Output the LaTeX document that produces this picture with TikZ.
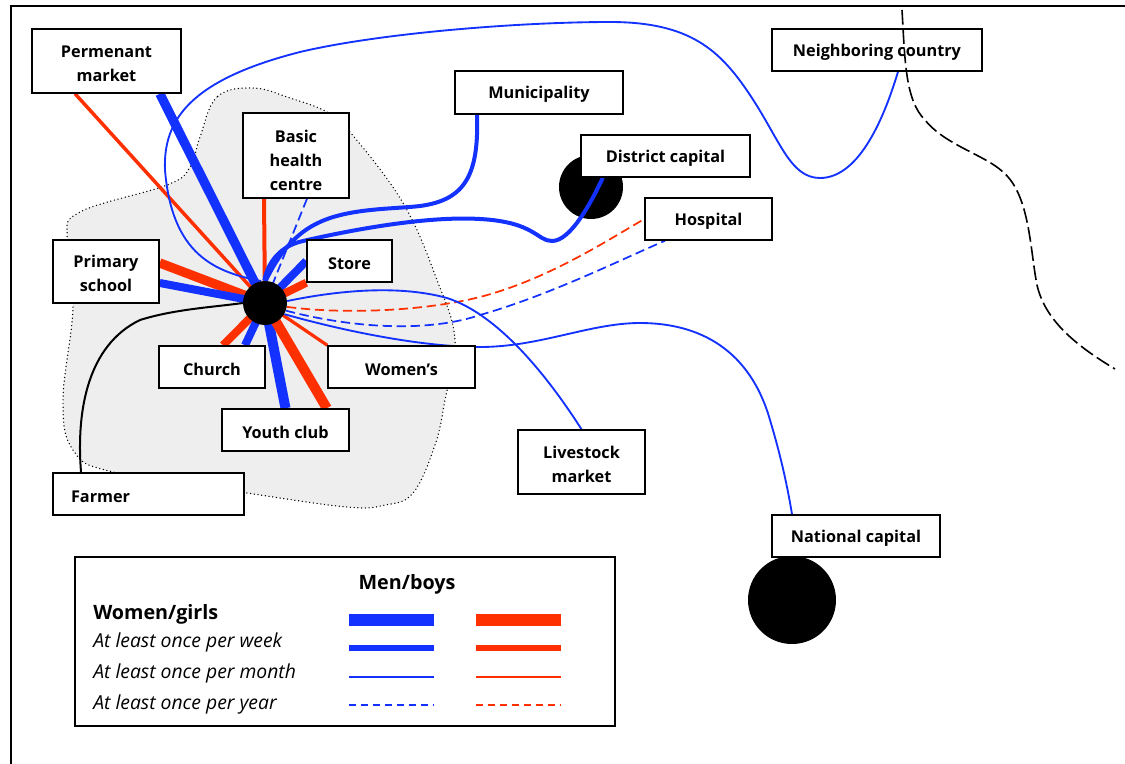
\documentclass[tikz,border=0pt]{standalone}
\usepackage{fontspec}
\setmainfont{Open Sans}
\pgfdeclarelayer{back}
\pgfdeclarelayer{wires}
\pgfsetlayers{back,wires,main}
\definecolor{linkblue}{RGB}{20,50,255}
\definecolor{linkred}{RGB}{255,48,0}
\definecolor{villagegray}{RGB}{238,238,238}
\tikzset{
	place/.style={draw,fill=white,line width=1.1pt,inner sep=0pt,align=center,font=\bfseries\fontsize{12.2}{18}\selectfont},
	monthly/.style={line width=1.4pt},
	yearly/.style={line width=1.3pt,dash pattern=on 7pt off 3.5pt},
	keytext/.style={anchor=west,inner sep=0pt,font=\itshape\fontsize{14.5}{16}\selectfont},
	keyhead/.style={inner sep=0pt,font=\bfseries\fontsize{14.8}{16}\selectfont}
}
\begin{document}
\begin{tikzpicture}[x=0.75pt,y=-0.75pt]
	\useasboundingbox (0,0) rectangle (1125,764);
	% Frame
	\draw[line width=1.1pt] (1125,6) -- (11,6) -- (11,764);
	% Village area
	\begin{pgfonlayer}{back}
		\draw[fill=villagegray,line width=1.1pt,line cap=round,dash pattern=on 0pt off 2.8pt] plot[smooth cycle,tension=0.65] coordinates {(253,88) (217,97) (200,137) (190,167) (167,185) (80,212) (67,240) (73,307) (63,400) (73,450) (113,472) (247,493) (347,507) (385,505) (413,493) (435,445) (445,400) (455,340) (437,280) (403,203) (350,132) (327,112) (290,98)};
	\end{pgfonlayer}
	% Places
	\node[fill=black,circle,minimum size=33pt,inner sep=0pt] (hub) at (265,303) {};
	\node[fill=black,circle,minimum size=66pt,inner sep=0pt] (nationaldot) at (792,600) {};
	\node[place,minimum width=111.75pt,minimum height=48pt] (permanent) at (106.5,61) {\rule{0pt}{12.5pt}Permenant\\market};
	\node[place,minimum width=126pt,minimum height=32.25pt] (municipality) at (539,92.5) {\rule{0pt}{12.5pt}Municipality};
	\node[place,minimum width=157.5pt,minimum height=31.5pt] (neighbor) at (877,50) {\rule{0pt}{12.5pt}Neighboring country};
	\node[place,minimum width=79.5pt,minimum height=63.75pt] (health) at (296,155.5) {\rule{0pt}{16pt}Basic\\health\\centre};
	\node[place,minimum width=126.75pt,minimum height=31.5pt] (district) at (665.5,156) {\rule{0pt}{12.5pt}District capital};
	\node[place,minimum width=95.25pt,minimum height=31.5pt] (hospital) at (708.5,219) {\rule{0pt}{12.5pt}Hospital};
	\node[place,minimum width=63.75pt,minimum height=31.5pt] (store) at (349.5,261) {\rule{0pt}{12.5pt}Store};
	\node[place,minimum width=79.5pt,minimum height=47.25pt] (school) at (106,271.5) {\rule{0pt}{12.5pt}Primary\\school};
	\node[place,minimum width=79.5pt,minimum height=31.5pt] (church) at (212,367) {\rule{0pt}{12.5pt}Church};
	\node[place,minimum width=110.25pt,minimum height=31.5pt] (womens) at (401.5,367) {\rule{0pt}{12.5pt}Women's};
	\node[place,minimum width=95.25pt,minimum height=31.5pt] (youth) at (285.5,430) {\rule{0pt}{12.5pt}Youth club};
	\node[place,minimum width=143.25pt,minimum height=31.5pt,text width=116.25pt,align=left] (farmer) at (148.5,494) {\rule{0pt}{12.5pt}Farmer};
	\node[place,minimum width=95.25pt,minimum height=48pt] (livestock) at (581.5,462) {\rule{0pt}{12.5pt}Livestock\\market};
	\node[place,minimum width=126pt,minimum height=31.5pt] (national) at (856,536) {\rule{0pt}{12.5pt}National capital};
	\begin{pgfonlayer}{wires}
		\node[fill=black,circle,minimum size=48pt,inner sep=0pt] (districtdot) at (591,187) {};
		% Straight links, weekly
		\draw[linkblue,line width=7pt] ([xshift=40pt]permanent.south) -- (hub.center);
		\draw[linkblue,line width=6pt] (store.west) -- (hub.center);
		\draw[linkred,line width=6pt] (store.south west) -- (hub.center);
		\draw[linkred,line width=7pt] ([yshift=6.4pt]school.east) -- (hub.center);
		\draw[linkblue,line width=6pt] ([yshift=-8.6pt]school.east) -- (hub.center);
		\draw[linkred,line width=6pt] ([xshift=8.25pt]church.north) -- (hub.center);
		\draw[linkblue,line width=6pt] ([xshift=24.75pt]church.north) -- (hub.center);
		\draw[linkblue,line width=7.5pt] (youth.north) -- (hub.center);
		\draw[linkred,line width=7.5pt] ([xshift=31pt]youth.north) -- (hub.center);
		% Straight links, monthly
		\draw[linkred,line width=2.6pt] ([xshift=-23.6pt]permanent.south) -- (hub.center);
		\draw[linkred,line width=3pt] ([xshift=-24pt]health.south) -- (hub.center);
		\draw[linkred,line width=2.4pt] (womens.north west) -- (hub.center);
		\draw[linkblue,yearly] ([xshift=8.25pt]health.south) -- (hub.center);
		% Curved links
		\draw[line width=1.5pt] ([xshift=-50.6pt]farmer.north) .. controls (76,410) and (88,345) .. (140,320) .. controls (175,309) and (215,307) .. (hub.180);
		\draw[linkblue,monthly] (hub.100) .. controls (215,272) and (172,255) .. (165,170) .. controls (163,120) and (190,80) .. (300,52) .. controls (380,33) and (520,22) .. (610,22) .. controls (690,22) and (720,50) .. (750,95) .. controls (780,140) and (790,178) .. (820,178) .. controls (860,178) and (885,115) .. ([xshift=15.75pt]neighbor.south);
		\draw[linkblue,line width=3pt] ([xshift=-46.5pt]municipality.south) .. controls (479,175) and (465,200) .. (420,206) .. controls (395,209) and (350,208) .. (320,222) .. controls (295,233) and (278,255) .. (hub.88);
		\draw[linkblue,line width=3pt] ([xshift=-47pt]district.south) .. controls (590,205) and (570,241) .. (552,241) .. controls (537,241) and (535,222) .. (480,219) .. controls (430,216) and (360,228) .. (303,241) .. controls (280,246) and (268,262) .. (hub.92);
		\draw[linkred,yearly] (hub.-10) .. controls (340,314) and (420,312) .. (480,297) .. controls (545,280) and (600,245) .. (hospital.west);
		\draw[linkblue,yearly] (hub.-20) .. controls (340,325) and (420,335) .. (480,315) .. controls (550,295) and (620,260) .. ([xshift=-32.6pt]hospital.south);
		\draw[linkblue,monthly] (hub.5) .. controls (340,290) and (400,285) .. (447,298) .. controls (500,315) and (550,380) .. (livestock.north);
		\draw[linkblue,monthly] (hub.-30) .. controls (340,330) and (420,347) .. (480,347) .. controls (540,347) and (590,323) .. (640,323) .. controls (700,323) and (750,350) .. (770,420) .. controls (782,460) and (788,490) .. ([xshift=-48pt]national.north);
	\end{pgfonlayer}
	% Country border
	\draw[line width=1.2pt,dash pattern=on 11pt off 3.5pt] (902,10) .. controls (905,60) and (905,100) .. (925,120) .. controls (945,145) and (985,155) .. (1003,172) .. controls (1030,195) and (1030,250) .. (1037,285) .. controls (1045,320) and (1075,345) .. (1115,369);
	% Legend
	\node[draw,line width=1.1pt,minimum width=405pt,minimum height=126.75pt] (legend) at (345,641.5) {};
	\node[keyhead] (menboys) at (407,584) {Men/boys};
	\node[keyhead,anchor=west] (womengirls) at (93,614) {Women/girls};
	\node[keytext] (weekkey) at (93,642) {At least once per week};
	\node[keytext] (monthkey) at (93,673) {At least once per month};
	\node[keytext] (yearkey) at (93,704) {At least once per year};
	\coordinate (blueA) at (349,620);
	\coordinate (blueB) at (349,648);
	\coordinate (blueC) at (349,677);
	\coordinate (blueD) at (349,705);
	\coordinate (redA) at (476,620);
	\coordinate (redB) at (476,648);
	\coordinate (redC) at (476,677);
	\coordinate (redD) at (476,705);
	\draw[linkblue,line width=9pt] (blueA) -- ++(85,0);
	\draw[linkblue,line width=4.5pt] (blueB) -- ++(85,0);
	\draw[linkblue,monthly] (blueC) -- ++(85,0);
	\draw[linkblue,line width=1.4pt,dash pattern=on 5.5pt off 3.5pt] (blueD) -- ++(85,0);
	\draw[linkred,line width=9pt] (redA) -- ++(85,0);
	\draw[linkred,line width=4.5pt] (redB) -- ++(85,0);
	\draw[linkred,monthly] (redC) -- ++(85,0);
	\draw[linkred,line width=1.4pt,dash pattern=on 5.5pt off 3.5pt] (redD) -- ++(85,0);
\end{tikzpicture}
\end{document}
